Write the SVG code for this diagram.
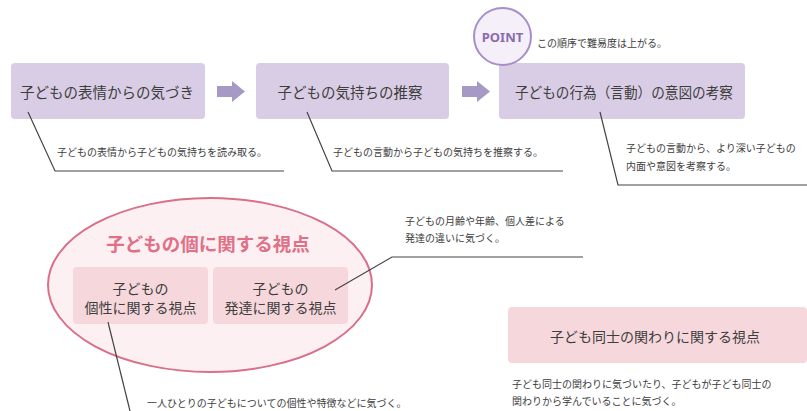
<svg xmlns="http://www.w3.org/2000/svg" width="807" height="411" viewBox="0 0 807 411">
<style>
.t{font-family:"Noto Sans CJK JP","Noto Sans",sans-serif;fill:#3d3d3d}
.box{fill:#d9cde5}
.pbox{fill:#f6d8dc}
.lab{font-size:14.5px;text-anchor:middle;dominant-baseline:central}
.sm{font-size:10px;dominant-baseline:central}
.ln{fill:none;stroke:#444;stroke-width:1.2}
.arr{fill:#a699c6}
</style>
<rect width="807" height="411" fill="#fff"/>
<g id="node1">
<rect class="box" x="11" y="63" width="194" height="56" rx="4"/>
<text class="t lab" x="107" y="91">子どもの表情からの気づき</text>
<text class="t sm" x="57" y="151">子どもの表情から子どもの気持ちを読み取る。</text>
</g>
<g id="node2">
<rect class="box" x="256" y="63" width="193" height="56" rx="4"/>
<text class="t lab" x="350" y="91">子どもの気持ちの推察</text>
<text class="t sm" x="333" y="151">子どもの言動から子どもの気持ちを推察する。</text>
</g>
<g id="node3">
<rect class="box" x="499" y="63" width="246" height="56" rx="4"/>
<text class="t lab" x="624" y="91" textLength="218" lengthAdjust="spacingAndGlyphs">子どもの行為（言動）の意図の考察</text>
<text class="t sm" x="626" y="147">子どもの言動から、より深い子どもの</text>
<text class="t sm" x="626" y="165">内面や意図を考察する。</text>
</g>
<g id="point">
<circle cx="502.5" cy="36.5" r="28.5" fill="#f4eff8" stroke="#a88ec8" stroke-width="2"/>
<text x="502.5" y="37" font-family="'Noto Sans','Liberation Sans',sans-serif" font-weight="bold" font-size="13" fill="#8a6bb0" text-anchor="middle" dominant-baseline="central">POINT</text>
<text class="t sm" x="537" y="42">この順序で難易度は上がる。</text>
</g>
<g id="individual">
<ellipse cx="210" cy="285" rx="162" ry="87" fill="#fcf0f2" stroke="#d96f88" stroke-width="2"/>
<text x="208" y="243" font-family="'Noto Sans CJK JP',sans-serif" font-weight="bold" font-size="18.5" fill="#e06f88" text-anchor="middle" dominant-baseline="central">子どもの個に関する視点</text>
</g>
<g id="personality">
<rect class="pbox" x="73" y="267" width="135" height="57" rx="4"/>
<text class="t" font-size="14" text-anchor="middle" dominant-baseline="central" x="140.5" y="288">子どもの</text>
<text class="t" font-size="14" text-anchor="middle" dominant-baseline="central" x="140.5" y="307">個性に関する視点</text>
<text class="t sm" x="147" y="402">一人ひとりの子どもについての個性や特徴などに気づく。</text>
</g>
<g id="development">
<rect class="pbox" x="213" y="267" width="135" height="57" rx="4"/>
<text class="t" font-size="14" text-anchor="middle" dominant-baseline="central" x="280.5" y="288">子どもの</text>
<text class="t" font-size="14" text-anchor="middle" dominant-baseline="central" x="280.5" y="307">発達に関する視点</text>
<text class="t sm" x="405" y="220">子どもの月齢や年齢、個人差による</text>
<text class="t sm" x="405" y="237">発達の違いに気づく。</text>
</g>
<g id="peers">
<rect class="pbox" x="508" y="307" width="299" height="56" rx="4"/>
<text class="t" font-size="14" text-anchor="middle" dominant-baseline="central" x="655" y="336">子ども同士の関わりに関する視点</text>
<text class="t sm" x="512" y="383">子ども同士の関わりに気づいたり、子どもが子ども同士の</text>
<text class="t sm" x="512" y="400">関わりから学んでいることに気づく。</text>
</g>
<g id="connectors">
<path class="ln" d="M28,112 L55,171 L284,171"/>
<path class="ln" d="M307,112 L332,171 L563,171"/>
<path class="ln" d="M600,112 L618,185 L807,185"/>
<path class="ln" d="M108,322 L130,411"/>
<path class="ln" d="M335,290 L392,257 L583,257"/>
<polygon class="arr" points="217,86 232,86 232,81 245,91.5 232,102 232,97 217,97"/>
<polygon class="arr" points="462,86 477,86 477,81 490,91.5 477,102 477,97 462,97"/>
</g>
</svg>
